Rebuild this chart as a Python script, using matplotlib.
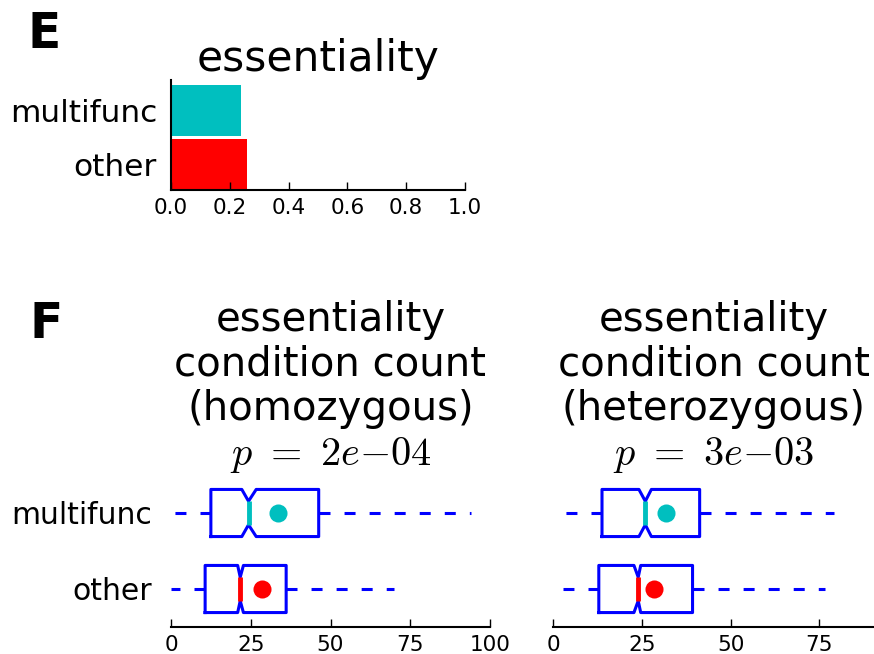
import matplotlib
matplotlib.use("Agg")
import matplotlib.pyplot as plt

W, H = 874, 654

# panel E: fraction essential
groups = ["other", "multifunc"]
ess_frac = [0.257, 0.237]
group_colors = ["#ff0000", "#00bfbf"]

# panel F: box summaries per group (other, multifunc)
homo_q1 = [10.7, 12.5]
homo_med = [21.7, 24.3]
homo_q3 = [36.1, 46.3]
homo_lo = [0.0, 1.0]
homo_hi = [70.0, 94.0]
homo_cilo = [20.9, 22.2]
homo_cihi = [22.7, 26.7]
homo_mean = [28.4, 33.4]

het_q1 = [12.9, 13.8]
het_med = [24.0, 26.0]
het_q3 = [39.3, 41.3]
het_lo = [2.8, 0.0]
het_hi = [76.7, 79.0]
het_cilo = [22.8, 24.2]
het_cihi = [24.7, 27.7]
het_mean = [28.5, 31.9]

homo_ticks = [0, 25, 50, 75, 100]
het_ticks = [0, 25, 50, 75]

plt.rcParams['mathtext.fontset'] = 'cm'
plt.rcParams['font.family'] = 'DejaVu Sans'


def px_axes(fig, l, t, r, b):
    return fig.add_axes([l / W, 1 - b / H, (r - l) / W, (b - t) / H])


def style_axes(ax, ypad, ysize):
    for side in ["top", "right"]:
        ax.spines[side].set_visible(False)
    ax.spines["bottom"].set_linewidth(1.5)
    ax.spines["left"].set_linewidth(1.5)
    ax.tick_params(axis="x", direction="in", length=6, width=1, labelsize=15.5, pad=6)
    ax.tick_params(axis="y", length=0, labelsize=ysize, pad=ypad)


def plot_bars(fig):
    ax = px_axes(fig, 171, 80, 465, 190)
    ax.barh([0, 1], ess_frac, height=0.95, align="edge", color=group_colors, edgecolor="none")
    ax.set_xlim(0, 1)
    ax.set_ylim(0, 2.05)
    ax.set_yticks([0.475, 1.475])
    ax.set_yticklabels(groups)
    ax.set_xticks([0, 0.2, 0.4, 0.6, 0.8, 1.0])
    ax.set_xticklabels(["0.0", "0.2", "0.4", "0.6", "0.8", "1.0"])
    style_axes(ax, 10, 22.5)
    ax.set_title("essentiality", fontsize=30.5, pad=0)


def plot_boxes(ax, q1, med, q3, lo, hi, cilo, cihi, mean, title, xmax, ticks, show_labels):
    stats = []
    for i in range(len(groups)):
        stats.append(dict(q1=q1[i], med=med[i], q3=q3[i], whislo=lo[i], whishi=hi[i],
                          cilo=cilo[i], cihi=cihi[i], mean=mean[i], fliers=[], label=groups[i]))
    res = ax.bxp(stats, positions=[1, 2], widths=0.62, orientation="horizontal",
                 shownotches=True, showmeans=True, showcaps=False, showfliers=False,
                 boxprops=dict(color="#0000ff", linewidth=2.2),
                 whiskerprops=dict(color="#0000ff", linewidth=2.2, linestyle=(0, (3.6, 4.6))),
                 medianprops=dict(linewidth=3.5, solid_capstyle="butt"),
                 meanprops=dict(marker="o", markersize=13, markeredgecolor="none"))
    for i, c in enumerate(group_colors):
        res["medians"][i].set_color(c)
        res["means"][i].set_markerfacecolor(c)
    ax.set_xlim(0, xmax)
    ax.set_ylim(0.5, 2.5)
    ax.set_xticks(ticks)
    ax.spines["left"].set_visible(False)
    style_axes(ax, 14, 21.5)
    if show_labels:
        ax.set_yticks([1, 2])
        ax.set_yticklabels(groups)
    else:
        ax.set_yticks([])
    ax.set_title(title, fontsize=29, pad=2, linespacing=1.15)


def main():
    fig = plt.figure(figsize=(W / 100, H / 100), dpi=100)
    fig.patch.set_facecolor("white")

    plot_bars(fig)

    ax1 = px_axes(fig, 171, 475, 490, 627)
    plot_boxes(ax1, homo_q1, homo_med, homo_q3, homo_lo, homo_hi, homo_cilo, homo_cihi, homo_mean,
               "essentiality\ncondition count\n(homozygous)\n$p\\ =\\ 2e{-}04$", 100, homo_ticks, True)

    ax2 = px_axes(fig, 553, 475, 874, 627)
    plot_boxes(ax2, het_q1, het_med, het_q3, het_lo, het_hi, het_cilo, het_cihi, het_mean,
               "essentiality\ncondition count\n(heterozygous)\n$p\\ =\\ 3e{-}03$", 90.4, het_ticks, False)

    fig.text(28 / W, 1 - 10 / H, "E", fontsize=35, fontweight="bold", va="top", ha="left")
    fig.text(29 / W, 1 - 300 / H, "F", fontsize=35, fontweight="bold", va="top", ha="left")

    fig.savefig("out.png", dpi=100)


if __name__ == '__main__':
    main()
